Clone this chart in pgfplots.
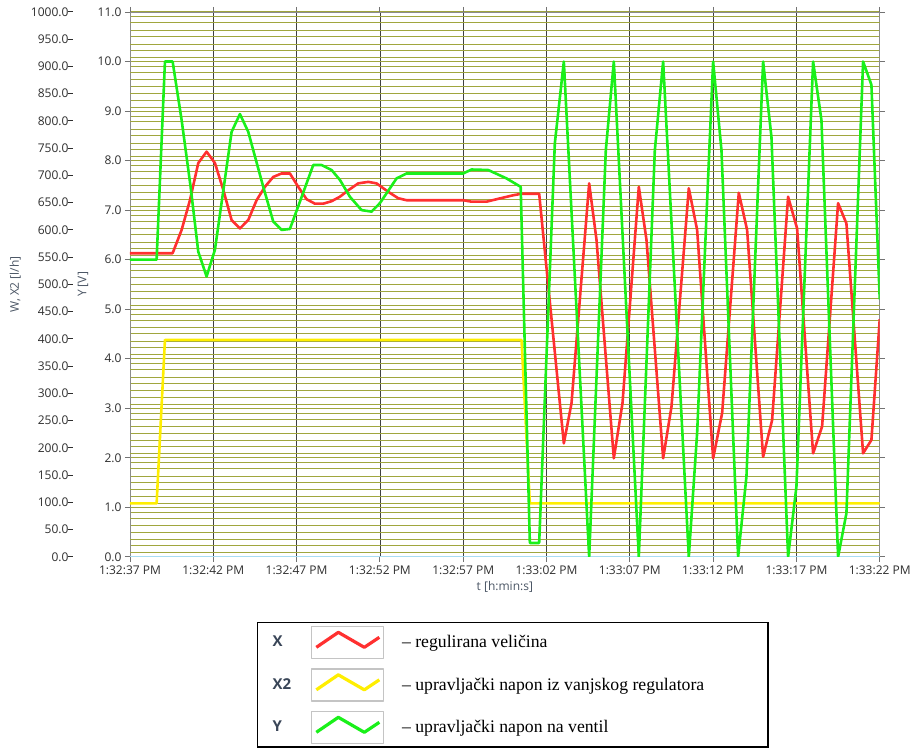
\documentclass[border=0pt]{standalone}
\usepackage{pgfplots}
\pgfplotsset{compat=1.18}
\usepackage{fontspec}
\setmainfont{Open Sans}
\newfontfamily\legendserif{Liberation Serif}

\definecolor{tickgray}{HTML}{2E2E2E}
\definecolor{labelgray}{HTML}{4A5564}
\definecolor{xred}{HTML}{FF3030}
\definecolor{xyellow}{HTML}{FFEE00}
\definecolor{ygreen}{HTML}{1AF01A}
\definecolor{gridyel}{HTML}{A0A63E}
\definecolor{gridlight}{HTML}{B6B690}
\definecolor{griddark}{HTML}{66663A}
\definecolor{baseblue}{HTML}{A8DCF2}
\definecolor{boxgray}{HTML}{C4C4C4}
\definecolor{tagblue}{HTML}{3A4658}

% legend swatch: tag, grey box, zigzag
\newcommand{\legimg}[2]{%
  \node[anchor=west, inner sep=0pt, font=\fontsize{15}{17}\selectfont\bfseries, text=tagblue] at (-40pt,0pt) {#1};
  \draw[draw=boxgray, line width=1.5pt] (0pt,-16pt) rectangle (72pt,16pt);
  \draw[#2, line width=3.2pt, line join=round] (5pt,-5pt) -- (27pt,10pt) -- (53pt,-5pt) -- (68pt,5pt);}
\pgfplotsset{
  legX/.style={legend image code/.code={\legimg{X}{##1}}},
  legXtwo/.style={legend image code/.code={\legimg{X2}{##1}}},
  legY/.style={legend image code/.code={\legimg{Y}{##1}}},
}

\pgfplotstableread{
t v
0     6.13
2.56  6.13
3.1   6.6
3.6   7.2
4.1   7.95
4.6   8.18
5.1   7.95
5.6   7.41
6.1   6.8
6.6   6.63
7.1   6.8
7.6   7.2
8.1   7.47
8.6   7.67
9.1   7.74
9.6   7.74
10.1  7.47
10.6  7.22
11.1  7.13
11.6  7.13
12.1  7.18
12.6  7.27
13.1  7.40
13.7  7.54
14.3  7.57
14.8  7.54
15.5  7.37
16.1  7.24
16.6  7.20
20.0  7.20
20.5  7.17
21.4  7.17
22.0  7.22
23.0  7.30
23.5  7.33
24.56 7.33
26.04 2.29
26.5  3.10
27.56 7.54
28.0  6.40
29.04 1.99
29.56 3.10
30.54 7.47
31.0  6.40
32.0  1.99
32.5  3.03
33.54 7.44
34.04 6.60
35.0  1.99
35.54 2.90
36.54 7.35
37.04 6.60
38.0  2.02
38.54 2.76
39.5  7.27
40.04 6.63
41.0  2.09
41.54 2.63
42.5  7.14
43.0  6.73
44.0  2.09
44.5  2.36
45.0  4.80
}\xdata

\pgfplotstableread{
t v
0     1.08
1.6   1.08
2.1   4.38
23.5  4.38
24.0  1.08
45.0  1.08
}\xtwodata

\pgfplotstableread{
t v
0     6.0
1.6   6.0
2.1   10.0
2.56  10.0
3.1   8.82
3.64  7.47
4.1   6.16
4.6   5.66
5.1   6.2
6.1   8.58
6.6   8.94
7.1   8.58
8.0   7.47
8.6   6.77
9.1   6.60
9.6   6.62
10.2  7.17
11.0  7.91
11.5  7.91
12.1  7.81
12.6  7.61
13.2  7.27
13.9  7.00
14.5  6.97
15.0  7.14
16.0  7.64
16.6  7.74
20.0  7.74
20.5  7.82
21.5  7.81
22.6  7.64
23.45 7.47
24.0  0.28
24.56 0.28
25.5  8.35
26.04 10.0
27.56 0.0
28.56 8.21
29.04 10.0
30.54 0.0
31.5  8.2
32.0  10.0
33.54 0.0
34.04 2.5
35.0  10.0
35.5  8.21
36.5  0.0
37.0  1.62
38.0  10.0
38.5  8.48
39.5  0.0
40.0  1.42
41.0  10.0
41.5  8.82
42.5  0.0
43.0  0.88
44.0  10.0
44.5  9.53
45.0  5.2
}\ydata

\begin{document}
\begin{tikzpicture}[x=1pt,y=1pt]
% left axis in l/h (ticks only)
\begin{axis}[
    at={(0,0)}, anchor=south west,
    width=750pt, height=545pt, scale only axis,
    xmin=0, xmax=45, ymin=0, ymax=1000,
    hide x axis,
    axis y line*=left,
    y axis line style={draw=none},
    ytick={0,50,...,1000},
    major tick length=0pt,
    yticklabel shift=53pt,
    /pgf/number format/assume math mode=true,
    yticklabel={\pgfmathprintnumber[fixed,fixed zerofill,precision=1,1000 sep={}]{\tick}\rule[0.33em]{5pt}{0.8pt}},
    tick label style={font=\fontsize{12}{14}\selectfont, text=tickgray},
    ylabel={W, X2 [l/h]},
    every axis y label/.style={at={(axis description cs:-0.153,0.5)}, rotate=90, anchor=center,
        font=\fontsize{12}{14}\selectfont, text=labelgray},
]
\end{axis}

\begin{axis}[
    at={(0,0)}, anchor=south west,
    width=750pt, height=545pt, scale only axis,
    xmin=0, xmax=45, ymin=0, ymax=11,
    xtick={0,5,...,45},
    xticklabels={1:32:37 PM,1:32:42 PM,1:32:47 PM,1:32:52 PM,1:32:57 PM,
                 1:33:02 PM,1:33:07 PM,1:33:12 PM,1:33:17 PM,1:33:22 PM},
    ytick={0,1,...,11},
    /pgf/number format/assume math mode=true,
    yticklabel={\pgfmathprintnumber[fixed,fixed zerofill,precision=1]{\tick}},
    tick label style={font=\fontsize{12}{14}\selectfont, text=tickgray},
    tick align=outside, major tick length=5pt, minor tick length=0pt,
    tick style={color=black!55, line width=0.8pt},
    axis line style={color=black!45, line width=0.9pt},
    xmajorgrids, ymajorgrids, yminorgrids,
    x grid style={color=black!75, line width=0.7pt},
    y grid style={color=gridyel, line width=1pt},
    minor grid style={color=gridlight, line width=0.9pt},
    minor ytick={0.22,1.22,...,10.22,0.5,1.5,...,10.5,0.63,1.63,...,10.63,0.9,1.9,...,10.9},
    extra y ticks={0.08,1.08,...,10.08,0.35,1.35,...,10.35,0.78,1.78,...,10.78},
    extra y tick labels={},
    extra y tick style={grid=major, major grid style={color=griddark, line width=1pt}, major tick length=0pt},
    xlabel={t [h:min:s]},
    ylabel={Y [V]},
    label style={font=\fontsize{12}{14}\selectfont, text=labelgray},
    every axis y label/.style={at={(axis description cs:-0.0627,0.5)}, rotate=90, anchor=center,
        font=\fontsize{12}{14}\selectfont, text=labelgray},
    legend cell align=left,
    legend style={at={(axis description cs:0.1693,-0.1193)}, anchor=north west,
        draw=black, line width=1.5pt,
        font=\legendserif\fontsize{17.7}{21}\selectfont,
        inner xsep=15pt, inner ysep=3pt, row sep=9pt, column sep=16pt},
]
\addplot[color=baseblue, line width=2pt, forget plot] coordinates {(0,0) (45,0)};

\addplot[color=xred, line width=2.6pt, line join=round, legX] table[x=t, y=v] {\xdata};
\addlegendentry{\makebox[349pt][l]{– regulirana veličina}}

\addplot[color=xyellow, line width=2.6pt, line join=round, legXtwo] table[x=t, y=v] {\xtwodata};
\addlegendentry{\makebox[349pt][l]{– upravljački napon iz vanjskog regulatora}}

\addplot[color=ygreen, line width=2.6pt, line join=round, legY] table[x=t, y=v] {\ydata};
\addlegendentry{\makebox[349pt][l]{– upravljački napon na ventil}}
\end{axis}
\useasboundingbox (-130pt,-185pt) rectangle (784pt,557pt);
\end{tikzpicture}
\end{document}
